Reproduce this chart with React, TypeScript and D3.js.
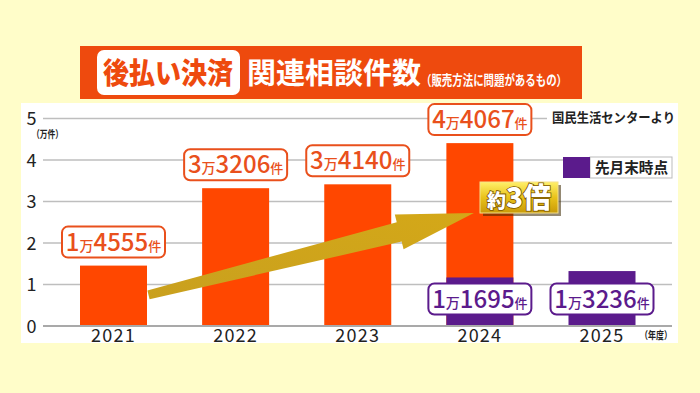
import React, { useEffect } from 'react';
import * as d3 from 'd3';

const years = ['2021', '2022', '2023', '2024', '2025'];
const totalCounts: (number | null)[] = [14555, 33206, 34140, 44067, null];
const partialCounts: (number | null)[] = [null, null, null, 11695, 13236];
const yTicks = [0, 1, 2, 3, 4, 5];
const titleMain = '後払い決済';
const titleSub = '関連相談件数';
const titleNote = '（販売方法に問題があるもの）';
const sourceText = '国民生活センターより';
const legendText = '先月末時点';
const yUnit = '（万件）';
const xUnit = '（年度）';
const arrowFrom = { year: '2021', value: 0.75, dx: 35 };
const arrowTo = { year: '2024', value: 2.72, dx: -6 };

const W = 700;
const H = 393;
const ORANGE = '#FF4700';
const TITLE_ORANGE = '#EE4A0E';
const LABEL_ORANGE = '#E9501C';
const PURPLE = '#5B1B8C';
const JP = "'Noto Sans CJK JP', 'Noto Sans', sans-serif";

function splitCount(v: number) {
  const man = Math.floor(v / 10000);
  const rest = String(v % 10000).padStart(4, '0');
  return { man: String(man), rest };
}

function CountLabel({ cx, cy, value, color }: { cx: number; cy: number; value: number; color: string }) {
  const { man, rest } = splitCount(value);
  const w = 103;
  const h = 31;
  return (
    <g>
      <rect x={cx - w / 2} y={cy - h / 2} width={w} height={h} rx={6} fill="#fff" stroke={color} strokeWidth={2} />
      <text x={cx} y={cy + 8.5} textAnchor="middle" fill={color} fontFamily={JP} fontWeight={500}>
        <tspan fontSize={24}>{man}</tspan>
        <tspan fontSize={14}>万</tspan>
        <tspan fontSize={24}>{rest}</tspan>
        <tspan fontSize={13}>件</tspan>
      </text>
    </g>
  );
}

export default function App() {
  useEffect(() => {
    document.body.style.margin = '0';
  }, []);

  const x = d3.scalePoint<string>().domain(years).range([113.5, 602]);
  const y = d3.scaleLinear().domain([0, 5]).range([326, 118.5]);
  const barW = 67;
  const gridX0 = 43;
  const gridX1 = 672;

  const T: [number, number] = [(x(arrowFrom.year) as number) + arrowFrom.dx, y(arrowFrom.value)];
  const P: [number, number] = [(x(arrowTo.year) as number) + arrowTo.dx, y(arrowTo.value)];
  const len = Math.hypot(P[0] - T[0], P[1] - T[1]);
  const u = [(P[0] - T[0]) / len, (P[1] - T[1]) / len];
  const n = [-u[1], u[0]];
  const headLen = 77;
  const B = [P[0] - u[0] * headLen, P[1] - u[1] * headLen];
  const pt = (base: number[], k: number) => `${base[0] + n[0] * k},${base[1] + n[1] * k}`;
  const arrowPts = [
    pt(T, -4.5),
    pt(B, -10),
    pt(B, -18),
    `${P[0]},${P[1]}`,
    pt(B, 18),
    pt(B, 10),
    pt(T, 4.5),
  ].join(' ');

  return (
    <svg width={W} height={H} style={{ position: 'absolute', left: 0, top: 0, display: 'block' }}>
      <defs>
        <linearGradient id="goldBox" x1="0" y1="0" x2="0" y2="1">
          <stop offset="0" stopColor="#FFF06A" />
          <stop offset="0.5" stopColor="#E9C21A" />
          <stop offset="1" stopColor="#C99A08" />
        </linearGradient>
        <linearGradient id="goldArrow" x1="0" y1="1" x2="1" y2="0">
          <stop offset="0" stopColor="#C9A01E" />
          <stop offset="1" stopColor="#D4A818" />
        </linearGradient>
      </defs>
      <rect x={0} y={0} width={W} height={H} fill="#FFFDC9" />

      <rect x={80} y={46} width={502} height={53} fill={TITLE_ORANGE} />
      <rect x={97} y={50} width={143} height={45} rx={7} fill="#fff" />
      <text x={103} y={83.5} fontFamily={JP} fontWeight={900} fontSize={29} fill={TITLE_ORANGE} textLength={130} lengthAdjust="spacingAndGlyphs">
        {titleMain}
      </text>
      <text x={247} y={83.5} fontFamily={JP} fontWeight={700} fontSize={29} fill="#fff" textLength={174} lengthAdjust="spacingAndGlyphs">
        {titleSub}
      </text>
      <text x={421} y={85} fontFamily={JP} fontWeight={700} fontSize={13.5} fill="#fff" textLength={146} lengthAdjust="spacingAndGlyphs">
        {titleNote}
      </text>

      <rect x={21} y={103} width={657} height={240} fill="#fff" />

      {yTicks.filter((t) => t > 0).map((t) => (
        <line key={t} x1={gridX0} x2={gridX1} y1={y(t)} y2={y(t)} stroke="#BEBEBE" strokeWidth={1.5} />
      ))}
      {yTicks.map((t) => (
        <text key={'yt' + t} x={31.5} y={y(t) + 6.5} textAnchor="middle" fontFamily={JP} fontWeight={400} fontSize={18} fill="#222">
          {t}
        </text>
      ))}
      <text x={32} y={138} fontFamily={JP} fontWeight={700} fontSize={10.5} fill="#222" textLength={31} lengthAdjust="spacingAndGlyphs">
        {yUnit}
      </text>

      <rect x={547} y={106} width={128} height={22} fill="#fff" />
      <text x={552} y={121.5} fontFamily={JP} fontWeight={700} fontSize={13} fill="#222" textLength={123} lengthAdjust="spacingAndGlyphs">
        {sourceText}
      </text>

      <rect x={590} y={157} width={82} height={21} fill="#fff" stroke="#BBBBBB" strokeWidth={1} />
      <rect x={563} y={157} width={27} height={21} fill={PURPLE} />
      <text x={595} y={173} fontFamily={JP} fontWeight={700} fontSize={15} fill="#222" textLength={73} lengthAdjust="spacingAndGlyphs">
        {legendText}
      </text>

      {years.map((yr, i) => {
        const v = totalCounts[i];
        if (v == null) return null;
        const cx = x(yr) as number;
        return <rect key={'b' + yr} x={cx - barW / 2} y={y(v / 10000)} width={barW} height={y(0) - y(v / 10000)} fill={ORANGE} />;
      })}
      {years.map((yr, i) => {
        const v = partialCounts[i];
        if (v == null) return null;
        const cx = x(yr) as number;
        return <rect key={'p' + yr} x={cx - barW / 2} y={y(v / 10000)} width={barW} height={y(0) - y(v / 10000)} fill={PURPLE} />;
      })}

      <line x1={gridX0} x2={gridX1} y1={y(0)} y2={y(0)} stroke="#A9A9A9" strokeWidth={2} />
      {years.map((yr) => (
        <text key={'xl' + yr} x={x(yr) as number} y={341.5} textAnchor="middle" fontFamily={JP} fontWeight={400} fontSize={18} letterSpacing={1.2} fill="#222">
          {yr}
        </text>
      ))}
      <text x={640} y={339} fontFamily={JP} fontWeight={700} fontSize={10.5} fill="#222" textLength={32} lengthAdjust="spacingAndGlyphs">
        {xUnit}
      </text>

      <polygon points={arrowPts} fill="url(#goldArrow)" />

      {years.map((yr, i) => {
        const v = totalCounts[i];
        if (v == null) return null;
        return <CountLabel key={'tl' + yr} cx={x(yr) as number} cy={y(v / 10000) - 8 - 15.5} value={v} color={LABEL_ORANGE} />;
      })}
      {years.map((yr, i) => {
        const v = partialCounts[i];
        if (v == null) return null;
        return <CountLabel key={'pl' + yr} cx={x(yr) as number} cy={y(0.65)} value={v} color={PURPLE} />;
      })}

      <rect x={483} y={185} width={78} height={31} fill="rgba(60,40,0,0.55)" />
      <rect x={480} y={182} width={78} height={31} fill="url(#goldBox)" stroke="#F5E08A" strokeWidth={1} />
      <text x={519} y={208} textAnchor="middle" fontFamily={JP} fontWeight={900} fill="#fff" stroke="#7A5500" strokeWidth={1.6} paintOrder="stroke">
        <tspan fontSize={19}>約</tspan>
        <tspan fontSize={28}>3倍</tspan>
      </text>
    </svg>
  );
}
